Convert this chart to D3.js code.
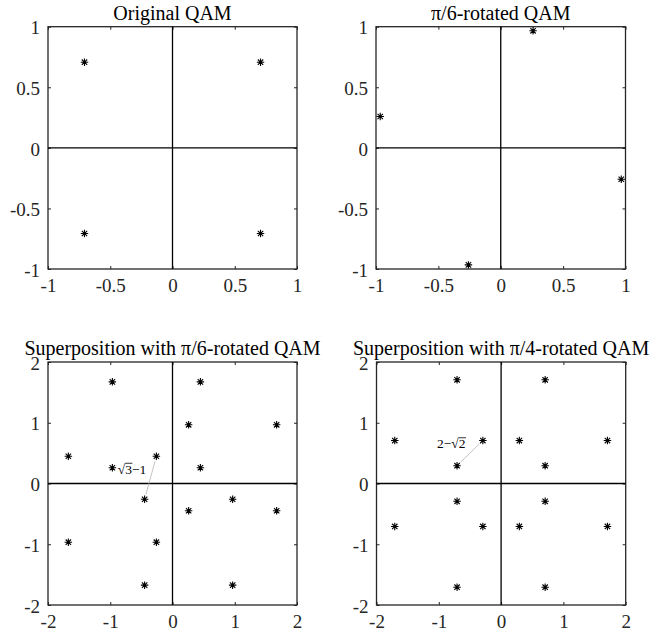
<!DOCTYPE html>
<html>
<head>
<meta charset="utf-8">
<script src="https://cdn.jsdelivr.net/npm/d3@7"></script>
<style>
  body { margin: 0; background: #fff; }
  svg { display: block; }
  .tick text { font-family: 'Liberation Serif', 'Times New Roman', serif; font-size: 19px; fill: #262626; }
  .title { font-family: 'Liberation Serif', 'Times New Roman', serif; font-size: 20px; fill: #000; }
  .note { font-family: 'Liberation Serif', 'Times New Roman', serif; font-size: 13.5px; fill: #000; }
</style>
</head>
<body>
<script>
const w = 662;
const h = 635;

// data
const origX = [-0.707, 0.707, -0.707, 0.707];
const origY = [0.707, 0.707, -0.707, -0.707];

const rot6X = [0.259, -0.966, -0.259, 0.966];
const rot6Y = [0.966, 0.259, -0.966, -0.259];

const sup6X = [-0.966, 0.448, 0.259, 1.673, -1.673, -0.966, -0.259, 0.448, -0.448, 0.966, -1.673, 0.259, 1.673, -0.259, -0.448, 0.966];
const sup6Y = [1.673, 1.673, 0.966, 0.966, 0.448, 0.259, 0.448, 0.259, -0.259, -0.259, -0.966, -0.448, -0.448, -0.966, -1.673, -1.673];

const sup4X = [-0.707, 0.707, -1.707, -0.293, 0.293, 1.707, -0.707, 0.707, -0.707, 0.707, -1.707, -0.293, 0.293, 1.707, -0.707, 0.707];
const sup4Y = [1.707, 1.707, 0.707, 0.707, 0.707, 0.707, 0.293, 0.293, -0.293, -0.293, -0.707, -0.707, -0.707, -0.707, -1.707, -1.707];

const ticksSmall = [-1, -0.5, 0, 0.5, 1];
const ticksBig = [-2, -1, 0, 1, 2];
const titles = ['Original QAM', 'π/6-rotated QAM', 'Superposition with π/6-rotated QAM', 'Superposition with π/4-rotated QAM'];

const panels = [
  { xs: origX, ys: origY, lim: 1, ticks: ticksSmall, x0: 48, x1: 297, y0: 26.7, y1: 269 },
  { xs: rot6X, ys: rot6Y, lim: 1, ticks: ticksSmall, x0: 376, x1: 625.5, y0: 26.7, y1: 269 },
  { xs: sup6X, ys: sup6Y, lim: 2, ticks: ticksBig, x0: 48, x1: 297, y0: 362, y1: 605,
    link: [6, 8], note: { x: -0.88, y: 0.16, tex: ['3', '−1'], pre: '' } },
  { xs: sup4X, ys: sup4Y, lim: 2, ticks: ticksBig, x0: 376.5, x1: 625.7, y0: 362, y1: 605,
    link: [3, 6], note: { x: -1.03, y: 0.58, tex: ['2', ''], pre: '2−' } }
];

const svg = d3.select('body')
   .append('svg')
   .attr('width', w)
   .attr('height', h);

// matlab style '*' marker
const asterisk = {
  draw(ctx, size) {
    const r = Math.sqrt(size) / 2;
    const d = r * 0.72;
    ctx.moveTo(-r, 0); ctx.lineTo(r, 0);
    ctx.moveTo(0, -r); ctx.lineTo(0, r);
    ctx.moveTo(-d, -d); ctx.lineTo(d, d);
    ctx.moveTo(-d, d); ctx.lineTo(d, -d);
  }
};

panels.forEach((p, k) => {
  const xScale = d3.scaleLinear().domain([-p.lim, p.lim]).range([p.x0, p.x1]);
  const yScale = d3.scaleLinear().domain([-p.lim, p.lim]).range([p.y1, p.y0]);
  const g = svg.append('g');
  const fmt = (d) => String(d);

  // ticks inside, all four sides
  const xAx = g.append('g')
     .attr('transform', 'translate(0,' + p.y1 + ')')
     .call(d3.axisBottom(xScale).tickValues(p.ticks).tickFormat(fmt).tickSize(-3).tickSizeOuter(0).tickPadding(10));
  g.append('g')
     .attr('transform', 'translate(0,' + p.y0 + ')')
     .call(d3.axisTop(xScale).tickValues(p.ticks).tickFormat('').tickSize(-3).tickSizeOuter(0));
  const yAx = g.append('g')
     .attr('transform', 'translate(' + p.x0 + ',0)')
     .call(d3.axisLeft(yScale).tickValues(p.ticks).tickFormat(fmt).tickSize(-3).tickSizeOuter(0).tickPadding(8));
  g.append('g')
     .attr('transform', 'translate(' + p.x1 + ',0)')
     .call(d3.axisRight(yScale).tickValues(p.ticks).tickFormat('').tickSize(-3).tickSizeOuter(0));

  g.selectAll('.domain').remove();
  g.selectAll('.tick line').attr('stroke', '#262626').attr('stroke-width', 1);
  xAx.selectAll('.tick text').attr('dominant-baseline', 'hanging').attr('dy', '-0.05em');
  yAx.selectAll('.tick text').attr('dy', '0.38em');

  // box
  g.append('rect')
     .attr('x', p.x0).attr('y', p.y0)
     .attr('width', p.x1 - p.x0).attr('height', p.y1 - p.y0)
     .attr('fill', 'none').attr('stroke', '#262626').attr('stroke-width', 1.3);

  // zero lines
  g.append('line')
     .attr('x1', xScale(0)).attr('x2', xScale(0)).attr('y1', p.y0).attr('y2', p.y1)
     .attr('stroke', '#000').attr('stroke-width', 1.3);
  g.append('line')
     .attr('x1', p.x0).attr('x2', p.x1).attr('y1', yScale(0)).attr('y2', yScale(0))
     .attr('stroke', '#000').attr('stroke-width', 1.3);

  g.append('text')
     .attr('class', 'title')
     .attr('x', (p.x0 + p.x1) / 2)
     .attr('y', p.y0 - 7)
     .attr('text-anchor', 'middle')
     .text(titles[k]);

  if (p.link) {
    const a = p.link[0], b = p.link[1];
    const ax = xScale(p.xs[a]), ay = yScale(p.ys[a]);
    const bx = xScale(p.xs[b]), by = yScale(p.ys[b]);
    const len = Math.hypot(bx - ax, by - ay);
    const ux = (bx - ax) / len, uy = (by - ay) / len;
    g.append('line')
       .attr('x1', ax + ux * 5).attr('y1', ay + uy * 5)
       .attr('x2', bx - ux * 5).attr('y2', by - uy * 5)
       .attr('stroke', '#b4b4b4').attr('stroke-width', 0.8);

    const t = g.append('text')
       .attr('class', 'note')
       .attr('x', xScale(p.note.x))
       .attr('y', yScale(p.note.y));
    if (p.note.pre) t.append('tspan').text(p.note.pre);
    t.append('tspan').text('√');
    const rad = t.append('tspan').text(p.note.tex[0]);
    if (p.note.tex[1]) t.append('tspan').text(p.note.tex[1]);
    // bar over the radicand
    const bb = rad.node().getExtentOfChar(0);
    g.append('line')
       .attr('x1', bb.x).attr('x2', bb.x + bb.width + 0.5)
       .attr('y1', bb.y + 1.5).attr('y2', bb.y + 1.5)
       .attr('stroke', '#000').attr('stroke-width', 0.8);
  }

  g.selectAll('path.pt')
     .data(p.xs)
     .enter()
     .append('path')
     .attr('class', 'pt')
     .attr('d', d3.symbol().type(asterisk).size(56))
     .attr('transform', (d, i) => 'translate(' + xScale(d) + ',' + yScale(p.ys[i]) + ')')
     .attr('fill', 'none')
     .attr('stroke', '#000')
     .attr('stroke-width', 1.1);
});
</script>
</body>
</html>
